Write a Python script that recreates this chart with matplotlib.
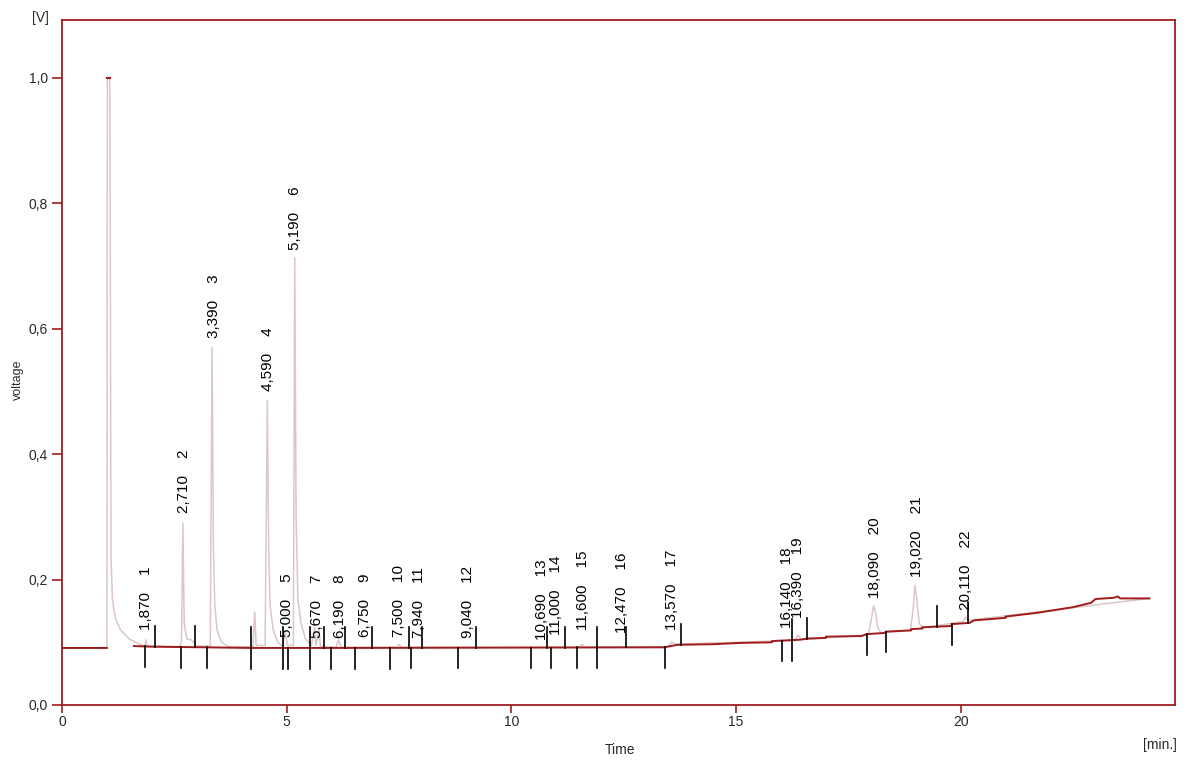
import numpy as np
import matplotlib
matplotlib.use("Agg")
import matplotlib.pyplot as plt

plt.rcParams['font.family'] = ['Liberation Sans', 'DejaVu Sans']

# ---------------- data ----------------
# chromatogram signal (time [min], voltage [V])
sig_t = [0.0, 1.0, 1.01, 1.06, 1.07, 1.09, 1.12, 1.18, 1.30, 1.50, 1.70,
         1.84, 1.87, 1.90, 2.60, 2.66, 2.69, 2.72, 2.78, 2.88, 3.00,
         3.30, 3.34, 3.37, 3.40, 3.45, 3.55, 3.70, 4.25, 4.29, 4.32,
         4.52, 4.57, 4.60, 4.63, 4.70, 4.80, 4.90, 4.97, 5.02, 5.15,
         5.18, 5.21, 5.25, 5.32, 5.42, 5.55, 5.62, 5.65, 5.72, 5.75,
         6.10, 6.15, 6.22, 7.45, 7.50, 7.55, 11.50, 11.57, 11.64,
         13.50, 13.57, 13.64, 16.32, 16.38, 16.45, 17.95, 18.02, 18.06,
         18.10, 18.15, 18.22, 18.88, 18.94, 18.98, 19.02, 19.08, 19.15,
         20.05, 20.11, 20.17, 24.20]
sig_v = [0.091, 0.091, 1.000, 1.000, 0.895, 0.240, 0.170, 0.140, 0.120, 0.105, 0.098,
         0.094, 0.104, 0.094, 0.093, 0.100, 0.290, 0.130, 0.105, 0.104, 0.094,
         0.094, 0.570, 0.250, 0.160, 0.120, 0.100, 0.093, 0.093, 0.148, 0.095,
         0.095, 0.486, 0.250, 0.160, 0.120, 0.100, 0.094, 0.115, 0.095, 0.095,
         0.713, 0.300, 0.170, 0.130, 0.105, 0.095, 0.123, 0.095, 0.120, 0.094,
         0.092, 0.104, 0.092, 0.092, 0.097, 0.092, 0.092, 0.097, 0.092,
         0.093, 0.101, 0.097, 0.103, 0.112, 0.104, 0.112, 0.140, 0.158,
         0.150, 0.125, 0.115, 0.119, 0.150, 0.191, 0.170, 0.130, 0.123,
         0.133, 0.140, 0.135, 0.170]

# integration baseline (nan = gap)
base_t = [0.0, 1.0, np.nan, 1.60, 2.00, 3.20, 4.20, 6.00, 13.40, 13.70, 14.50,
          15.10, 15.80, 15.80, 16.40, 16.60, 17.00, 17.00, 17.80, 17.90, 18.33,
          18.33, 18.90, 18.90, 19.15, 19.15, 19.80, 19.80, 20.20, 20.30, 21.00,
          21.00, 21.70, 22.50, 22.90, 23.00, 23.40, 23.50, 23.55, 24.20]
base_v = [0.091, 0.091, np.nan, 0.094, 0.093, 0.092, 0.091, 0.091, 0.092, 0.096, 0.097,
          0.099, 0.100, 0.102, 0.104, 0.106, 0.107, 0.109, 0.110, 0.113, 0.115,
          0.117, 0.119, 0.121, 0.122, 0.124, 0.126, 0.129, 0.131, 0.135, 0.139,
          0.141, 0.147, 0.156, 0.163, 0.169, 0.171, 0.173, 0.170, 0.170]

# peak start (down) and end (up) markers
down_ticks = [1.84, 2.64, 3.22, 4.20, 4.91, 5.04, 5.53, 5.98, 6.51, 7.31, 7.76,
              8.82, 10.44, 10.89, 11.47, 11.91, 13.42, 16.02, 16.25, 17.91,
              18.33, 19.81]
up_ticks = [2.07, 2.96, 4.20, 4.91, 5.53, 5.84, 6.29, 6.89, 7.73, 8.02, 9.22,
            10.80, 11.20, 11.91, 12.56, 13.78, 16.25, 16.58, 19.47, 20.16]

# peak labels
peak_rt = [1.870, 2.710, 3.390, 4.590, 5.000, 5.190, 5.670, 6.190, 6.750, 7.500,
           7.940, 9.040, 10.690, 11.000, 11.600, 12.470, 13.570, 16.140,
           16.390, 18.090, 19.020, 20.110]
peak_num = list(range(1, 23))
label_v = [0.120, 0.306, 0.585, 0.500, 0.108, 0.726, 0.107, 0.107, 0.109, 0.109,
           0.107, 0.107, 0.104, 0.112, 0.120, 0.115, 0.120, 0.123, 0.139,
           0.171, 0.204, 0.152]

yticks = [0.0, 0.2, 0.4, 0.6, 0.8, 1.0]
ytick_labels = ["0,0", "0,2", "0,4", "0,6", "0,8", "1,0"]
xticks = [0, 5, 10, 15, 20]
xtick_labels = ["0", "5", "10", "15", "20"]

# ---------------- style ----------------
RED = '#a01c1c'
PINK = '#dcc6c6'
TXT = '#2a2a2a'

W, H = 1187, 760
fig = plt.figure(figsize=(W / 100, H / 100), dpi=100)
ax = fig.add_axes([62 / W, 1 - 705 / H, (1175 - 62) / W, (705 - 20) / H])
ax.set_xlim(0, 24.77)
ax.set_ylim(0, 1.0925)

for s in ax.spines.values():
    s.set_color(RED)
    s.set_linewidth(1.3)

ax.set_xticks(xticks)
ax.set_xticklabels(xtick_labels)
ax.set_yticks(yticks)
ax.set_yticklabels(ytick_labels)
ax.tick_params(direction='out', length=7, width=1.2, color=RED,
               labelsize=10, labelcolor=TXT, pad=3)
ax.tick_params(axis='x', length=6, pad=1)

# signal
ax.plot(sig_t, sig_v, color=PINK, lw=1.1, zorder=2)
# solvent apex mark
ax.plot(sig_t[2:4], sig_v[2:4], color=RED, lw=1.5, zorder=3)
# baseline
ax.plot(base_t, base_v, color=RED, lw=1.4, zorder=3)

bt = np.array(base_t)
bv = np.array(base_v)
ok = ~np.isnan(bt)
bt, bv = bt[ok], bv[ok]
tick_len = 0.033
for t in down_ticks:
    b = np.interp(t, bt, bv)
    ax.plot([t, t], [b, b - tick_len], color='black', lw=1.2, zorder=4)
for t in up_ticks:
    b = np.interp(t, bt, bv)
    ax.plot([t, t], [b, b + tick_len], color='black', lw=1.2, zorder=4)

for rt, n, lv in zip(peak_rt, peak_num, label_v):
    s = f"{rt:.3f}".replace('.', ',') + "    " + str(n)
    ax.text(rt, lv, s, rotation=90, ha='center', va='bottom',
            fontsize=11, color='black', zorder=5)

fig.text(40 / W, 1 - 18 / H, "[V]", fontsize=10, color=TXT, ha='center', va='center')
fig.text(18 / W, 1 - 380 / H, "voltage", fontsize=9, color=TXT, rotation=90,
         ha='center', va='center')
fig.text(620 / W, 1 - 750 / H, "Time", fontsize=10, color=TXT, ha='center', va='center')
fig.text(1160 / W, 1 - 745 / H, "[min.]", fontsize=10, color=TXT, ha='center', va='center')

fig.savefig("out.png", dpi=100)
